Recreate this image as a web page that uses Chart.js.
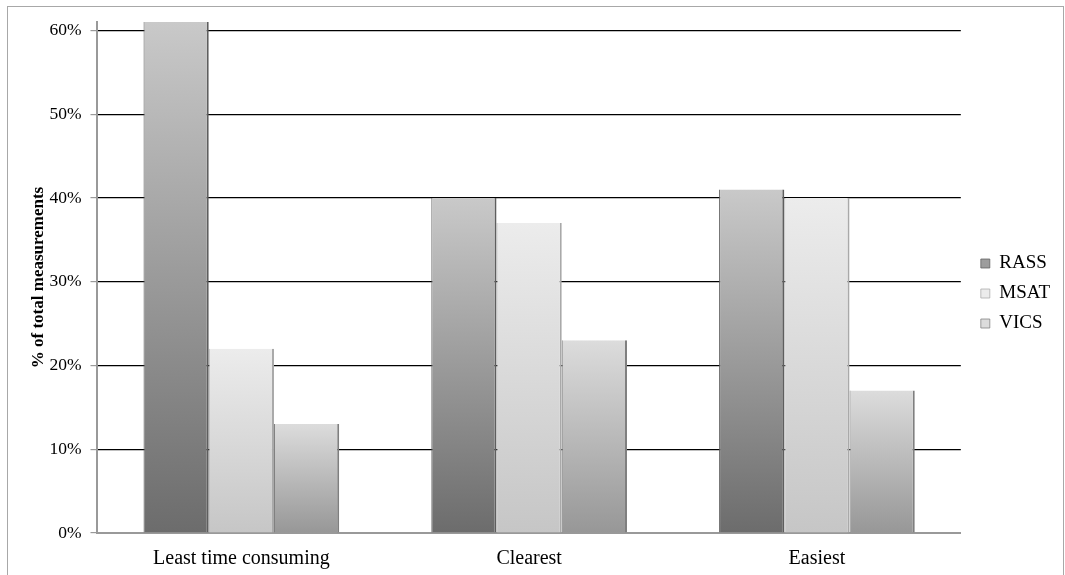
<!DOCTYPE html>
<html>
<head>
<meta charset="utf-8">
<script src="https://cdn.jsdelivr.net/npm/chart.js@4.4.1/dist/chart.umd.min.js"></script>
<style>
    html, body { margin: 0; padding: 0; background: #fff; }
    #frame {
        position: absolute; left: 7px; top: 6px; width: 1055px; height: 580px;
        border: 1px solid #a8a8a8; border-bottom: none;
    }
    #chart { position: absolute; left: 0; top: 0; }
</style>
</head>
<body>
<div id="frame"></div>
<canvas id="chart" width="1065" height="575"></canvas>
<script>
const categories = ["Least time consuming", "Clearest", "Easiest"];
const seriesNames = ["RASS", "MSAT", "VICS"];
const rass = [61, 40, 41];
const msat = [22, 37, 40];
const vics = [13, 23, 17];
const yTicks = [0, 10, 20, 30, 40, 50, 60];

// top / bottom shades of each series
const shades = [
    ["#c9c9c9", "#6c6c6c"],
    ["#ececec", "#c6c6c6"],
    ["#dcdcdc", "#979797"]
];
const edges = ["#5e5e5e", "#a9a9a9", "#7f7f7f"];

const serif = "'Liberation Serif', 'Times New Roman', serif";

function barFill(i) {
    return (ctx) => {
        const chart = ctx.chart;
        if (ctx.type !== "data" || !chart.chartArea)
            return shades[i][1];
        const y = chart.scales.y;
        const top = y.getPixelForValue(ctx.raw);
        const base = y.getPixelForValue(0);
        const g = chart.ctx.createLinearGradient(0, top, 0, base);
        g.addColorStop(0, shades[i][0]);
        g.addColorStop(1, shades[i][1]);
        return g;
    };
}

// the legend sits a little further from the plot than Chart.js puts it
const legendShift = {
    id: "legendShift",
    afterLayout(chart) {
        const l = chart.legend;
        l.left += 9;
        l.right += 9;
        l.top -= 10;
        l.bottom -= 10;
    }
};

const values = [rass, msat, vics];

new Chart(document.getElementById("chart"), {
    type: "bar",
    data: {
        labels: categories,
        datasets: seriesNames.map((name, i) => ({
            label: name,
            data: values[i],
            backgroundColor: barFill(i),
            borderColor: edges[i],
            borderWidth: {left: 1, right: 2, top: 0, bottom: 0},
            borderSkipped: false,
            categoryPercentage: 0.68,
            barPercentage: 1.0
        }))
    },
    options: {
        responsive: false,
        animation: false,
        layout: {padding: {left: 28, right: 14, top: 22, bottom: -10}},
        plugins: {
            legend: {
                position: "right",
                labels: {
                    boxWidth: 9,
                    boxHeight: 9,
                    padding: 11,
                    color: "#000",
                    font: {family: serif, size: 19}
                }
            },
            tooltip: {enabled: false}
        },
        scales: {
            x: {
                grid: {display: false, drawTicks: false},
                border: {color: "#999", width: 2},
                ticks: {color: "#000", padding: 14, font: {family: serif, size: 20}}
            },
            y: {
                min: 0,
                max: 61,
                afterBuildTicks: (axis) => {
                    axis.ticks = yTicks.map(v => ({value: v}));
                },
                title: {
                    display: true,
                    text: "% of total measurements",
                    color: "#000",
                    font: {family: serif, size: 17, weight: "bold"},
                    padding: {top: 0, bottom: -8}
                },
                border: {color: "#999", width: 2},
                grid: {
                    color: (c) => c.tick && c.tick.value === 0 ? "rgba(0,0,0,0)" : "#000",
                    tickColor: "#999",
                    tickLength: 7,
                    lineWidth: 1.2
                },
                ticks: {
                    color: "#000",
                    padding: 9,
                    font: {family: serif, size: 17.5},
                    callback: (v) => v + "%"
                }
            }
        }
    },
    plugins: [legendShift]
});
</script>
</body>
</html>
